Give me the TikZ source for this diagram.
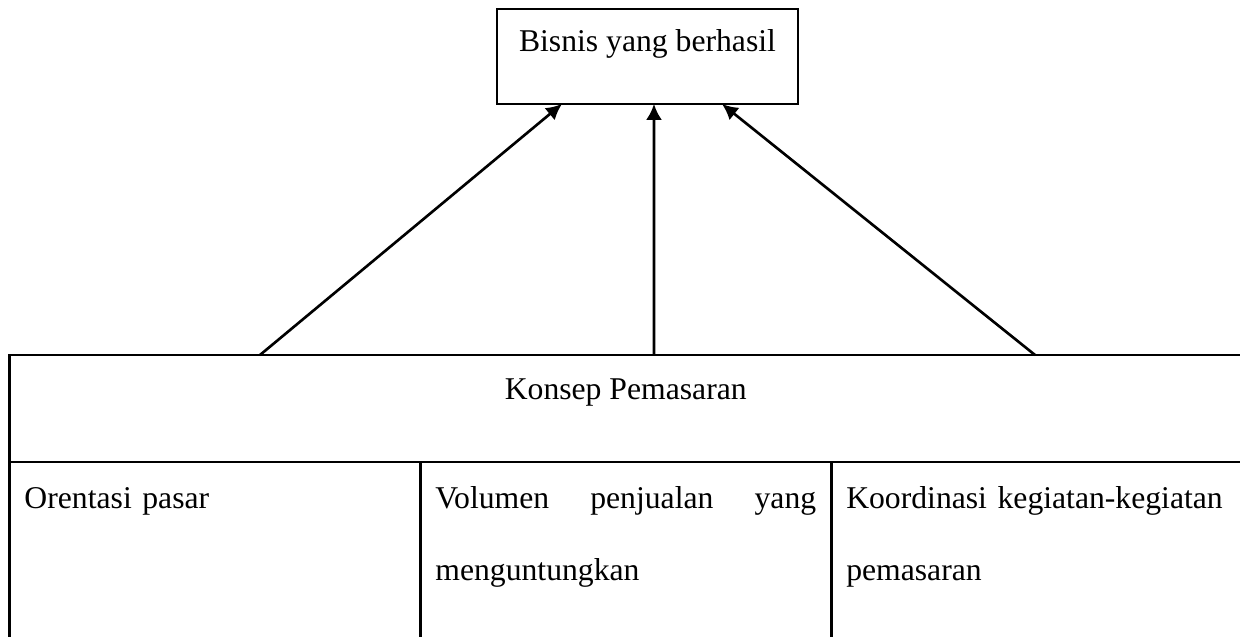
\documentclass[tikz,border=0pt]{standalone}
\usepackage{fontspec}
\setmainfont{Liberation Serif}
\usetikzlibrary{arrows.meta}

\tikzset{
  cell/.style={shape=rectangle,draw,line width=1pt,inner xsep=0.2cm,inner ysep=0pt,outer sep=0pt,
    text width=5.07cm,align=left,text height=0.613cm,text depth=2.0cm,
    font=\fontsize{12pt}{27.6pt}\selectfont},
  link/.style={->,>={Latex[length=6pt,width=6pt]},line width=1pt}
}

\begin{document}
\begin{tikzpicture}[font=\fontsize{12pt}{14.4pt}\selectfont]
\useasboundingbox (0,0) rectangle (16.508,8.480);
\node(bisnis)[shape=rectangle,draw,line width=0.6pt,inner sep=0pt,outer sep=0pt,minimum width=4.007cm,text height=0.559cm,text depth=0.705cm,anchor=north] at (8.620,8.360){Bisnis yang berhasil};
\node(konsep)[shape=rectangle,draw,line width=1pt,inner sep=0pt,outer sep=0pt,minimum width=16.409cm,text height=0.599cm,text depth=0.825cm,anchor=north west] at (0.126,3.754){Konsep Pemasaran};
\node(orentasi)[cell,anchor=north west] at (0.126,2.330){Orentasi pasar};
\node(volumen)[cell,anchor=north west] at (5.596,2.330){Volumen\hfill penjualan\hfill yang\\menguntungkan};
\node(koordinasi)[cell,anchor=north west] at (11.066,2.330){Koordinasi kegiatan-kegiatan\\pemasaran};
\draw[link] ([xshift=3.335cm]konsep.north west)--([xshift=0.865cm]bisnis.south west);
\draw[link] ([xshift=8.581cm]konsep.north west)--([xshift=2.090cm]bisnis.south west);
\draw[link] ([xshift=13.653cm]konsep.north west)--([xshift=2.995cm]bisnis.south west);
\end{tikzpicture}
\end{document}
